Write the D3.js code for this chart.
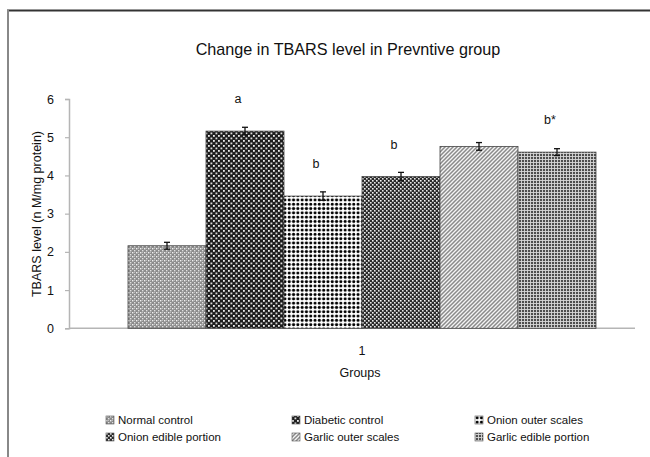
<!DOCTYPE html>
<html>
<head>
<meta charset="utf-8">
<script src="https://cdn.jsdelivr.net/npm/d3@7"></script>
<style>
  html, body { margin: 0; padding: 0; background: #fff; }
  svg { display: block; font-family: "Liberation Sans", Arial, sans-serif; }
</style>
</head>
<body>
<svg id="chart" width="650" height="457"></svg>
<script>
// ---- data ----
const categories = ["1"];
const seriesNames = ["Normal control", "Diabetic control", "Onion outer scales",
                     "Onion edible portion", "Garlic outer scales", "Garlic edible portion"];
const seriesValues = [2.16, 5.16, 3.46, 3.97, 4.76, 4.61];
const seriesErrors = [0.09, 0.10, 0.11, 0.11, 0.10, 0.09];
const seriesMarks = ["", "a", "b", "b", "", "b*"];
const yTicks = [0, 1, 2, 3, 4, 5, 6];
const titleText = "Change in TBARS level in Prevntive group";
const yTitle = "TBARS level (n M/mg protein)";
const xTitle = "Groups";

const svg = d3.select("#chart");
const defs = svg.append("defs");

// ---- patterns ----
function pat(id, w, h, build) {
  const p = defs.append("pattern").attr("id", id).attr("patternUnits", "userSpaceOnUse")
    .attr("width", w).attr("height", h);
  build(p);
}
pat("p0", 4, 4, p => {
  p.append("rect").attr("width", 4).attr("height", 4).attr("fill", "#8c8c8c");
  p.append("rect").attr("x", 0).attr("y", 0).attr("width", 1.4).attr("height", 1.4).attr("fill", "#f0f0f0");
  p.append("rect").attr("x", 2).attr("y", 2).attr("width", 1.4).attr("height", 1.4).attr("fill", "#e0e0e0");
  p.append("rect").attr("x", 2).attr("y", 0).attr("width", 1).attr("height", 1).attr("fill", "#bbb");
});
pat("p1", 5, 5, p => {
  p.append("rect").attr("width", 5).attr("height", 5).attr("fill", "#1e1e1e");
  p.append("rect").attr("x", 0).attr("y", 0).attr("width", 1.8).attr("height", 1.8).attr("fill", "#eee");
  p.append("rect").attr("x", 2.5).attr("y", 2.5).attr("width", 1.8).attr("height", 1.8).attr("fill", "#ddd");
});
pat("p2", 4.3, 4.3, p => {
  p.append("rect").attr("width", 4.3).attr("height", 4.3).attr("fill", "#fff");
  p.append("circle").attr("cx", 2.15).attr("cy", 2.15).attr("r", 1.55).attr("fill", "#000");
});
pat("p3", 4, 4, p => {
  p.append("rect").attr("width", 4).attr("height", 4).attr("fill", "#2a2a2a");
  p.append("rect").attr("x", 0).attr("y", 0).attr("width", 1.6).attr("height", 1.6).attr("fill", "#f2f2f2");
  p.append("rect").attr("x", 2).attr("y", 2).attr("width", 1.6).attr("height", 1.6).attr("fill", "#e6e6e6");
});
pat("p4", 4, 4, p => {
  p.append("rect").attr("width", 4).attr("height", 4).attr("fill", "#f4f4f4");
  p.append("path").attr("d", "M-1,1 L1,-1 M0,4 L4,0 M3,5 L5,3")
    .attr("stroke", "#8a8a8a").attr("stroke-width", 1.5);
});
pat("p5", 3, 3, p => {
  p.append("rect").attr("width", 3).attr("height", 3).attr("fill", "#4e4e4e");
  p.append("rect").attr("x", 0).attr("y", 0).attr("width", 3).attr("height", 0.9).attr("fill", "#d8d8d8");
  p.append("rect").attr("x", 0).attr("y", 0).attr("width", 0.9).attr("height", 3).attr("fill", "#d8d8d8");
});

// ---- frame ----
svg.append("line").attr("x1", 7).attr("x2", 650).attr("y1", 10.5).attr("y2", 10.5)
  .attr("stroke", "#333").attr("stroke-width", 2);
svg.append("line").attr("x1", 8).attr("x2", 8).attr("y1", 10).attr("y2", 457)
  .attr("stroke", "#888").attr("stroke-width", 2);

// ---- scales ----
const plotLeft = 69, plotRight = 635;
const y = d3.scaleLinear().domain([0, 6]).range([328.3, 99]);
const x0 = d3.scaleBand().domain(categories).range([128, 596]).padding(0);
const x1 = d3.scaleBand().domain(seriesNames).range([0, x0.bandwidth()]).padding(0);

// ---- title ----
svg.append("text").attr("x", 348).attr("y", 55).attr("text-anchor", "middle")
  .attr("font-size", 16.2).attr("fill", "#111").text(titleText);

// ---- y axis ----
const yAxis = d3.axisLeft(y).tickValues(yTicks).tickSize(4).tickPadding(11).tickFormat(d3.format("d"));
const gy = svg.append("g").attr("transform", `translate(${plotLeft},0)`).call(yAxis);
gy.select(".domain").attr("stroke", "#b5b5b5").attr("stroke-width", 1.5);
gy.selectAll(".tick line").attr("stroke", "#b5b5b5").attr("stroke-width", 1.2);
gy.selectAll(".tick text").attr("font-size", 12.5).attr("fill", "#111")
  .attr("font-family", "Liberation Sans, Arial, sans-serif");

// ---- x baseline & axis ----
svg.append("line").attr("x1", plotLeft).attr("x2", plotRight)
  .attr("y1", y(0)).attr("y2", y(0)).attr("stroke", "#b5b5b5").attr("stroke-width", 1.5);
const xAxis = d3.axisBottom(x0).tickSize(0).tickPadding(18);
const gx = svg.append("g").attr("transform", `translate(0,${y(0)})`).call(xAxis);
gx.select(".domain").remove();
gx.selectAll(".tick text").attr("font-size", 12.5).attr("fill", "#111")
  .attr("font-family", "Liberation Sans, Arial, sans-serif");

svg.append("text").attr("x", 360).attr("y", 377).attr("text-anchor", "middle")
  .attr("font-size", 12.5).attr("fill", "#111").text(xTitle);
svg.append("text").attr("transform", "translate(41,214) rotate(-90)").attr("text-anchor", "middle")
  .attr("font-size", 12.5).attr("fill", "#111").text(yTitle);

// ---- bars ----
const data = seriesNames.map((n, i) => ({ name: n, value: seriesValues[i], err: seriesErrors[i], mark: seriesMarks[i], i }));
const g = svg.append("g").attr("transform", `translate(${x0(categories[0])},0)`);
g.selectAll("rect.bar").data(data).join("rect").attr("class", "bar")
  .attr("x", d => x1(d.name)).attr("width", x1.bandwidth())
  .attr("y", d => y(d.value)).attr("height", d => y(0) - y(d.value))
  .attr("fill", d => `url(#p${d.i})`).attr("stroke", "#444").attr("stroke-width", 0.8);

// error bars
const eb = g.selectAll("g.err").data(data).join("g").attr("class", "err")
  .attr("stroke", "#111").attr("stroke-width", 1.3);
eb.append("line").attr("x1", d => x1(d.name) + x1.bandwidth() / 2).attr("x2", d => x1(d.name) + x1.bandwidth() / 2)
  .attr("y1", d => y(d.value + d.err)).attr("y2", d => y(d.value - d.err));
eb.append("line").attr("x1", d => x1(d.name) + x1.bandwidth() / 2 - 3).attr("x2", d => x1(d.name) + x1.bandwidth() / 2 + 3)
  .attr("y1", d => y(d.value + d.err)).attr("y2", d => y(d.value + d.err));
eb.append("line").attr("x1", d => x1(d.name) + x1.bandwidth() / 2 - 3).attr("x2", d => x1(d.name) + x1.bandwidth() / 2 + 3)
  .attr("y1", d => y(d.value - d.err)).attr("y2", d => y(d.value - d.err));

// significance marks
g.selectAll("text.mark").data(data.filter(d => d.mark)).join("text").attr("class", "mark")
  .attr("x", d => x1(d.name) + x1.bandwidth() / 2 - 7)
  .attr("y", d => y(d.value) - 28)
  .attr("text-anchor", "middle").attr("font-size", 12.5).attr("fill", "#111").text(d => d.mark);

// ---- legend ----
const legCols = [106, 292, 475];
const legRows = [420, 437];
const leg = svg.append("g").selectAll("g").data(data).join("g")
  .attr("transform", d => `translate(${legCols[d.i % 3]},${legRows[Math.floor(d.i / 3)]})`);
leg.append("rect").attr("x", 0).attr("y", -4).attr("width", 8).attr("height", 8)
  .attr("fill", d => `url(#p${d.i})`).attr("stroke", "#555").attr("stroke-width", 0.6);
leg.append("text").attr("x", 12).attr("y", 4.2).attr("font-size", 11.5).attr("fill", "#111").text(d => d.name);
</script>
</body>
</html>
